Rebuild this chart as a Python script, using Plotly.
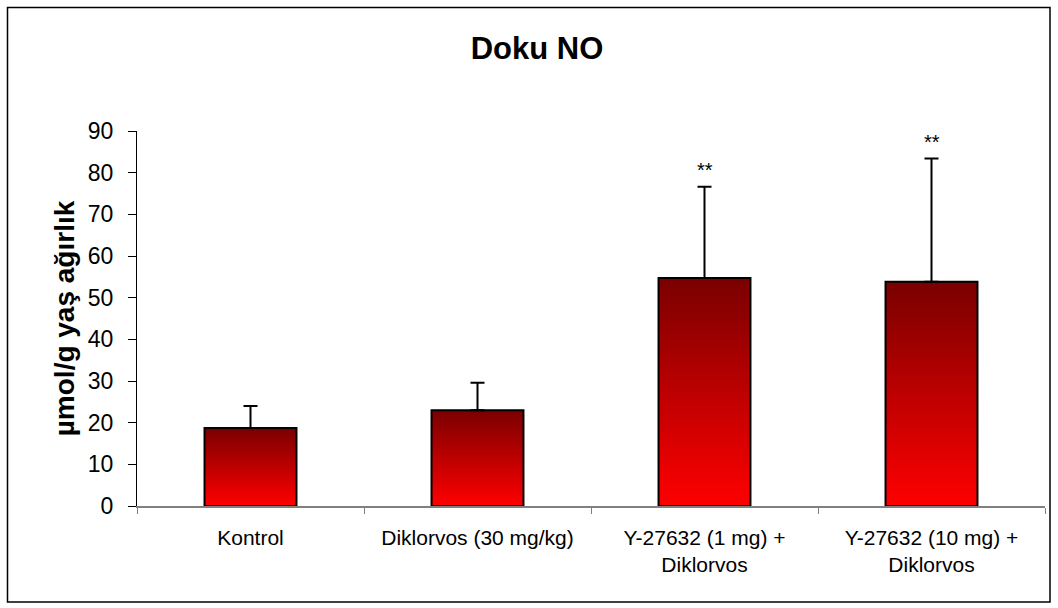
import plotly.graph_objects as go

# Doku NO: group means, upper SD and significance marks
categories = [
    "Kontrol",
    "Diklorvos (30 mg/kg)",
    "Y-27632 (1 mg) +<br>Diklorvos",
    "Y-27632 (10 mg) +<br>Diklorvos",
]
means = [18.7, 23.0, 54.7, 53.8]
sd_upper = [5.3, 6.6, 21.9, 29.6]
significance = ["", "", "**", "**"]

y_ticks = [0, 10, 20, 30, 40, 50, 60, 70, 80, 90]

FONT = "Liberation Sans, Arial, sans-serif"
W, H = 1058, 608
M_L, M_R, M_T, M_B = 137, 13, 131, 102

# vertical gradient: bright red at the base to dark red at the top of each bar
N_SLICES = 60
BOTTOM_RGB = (255, 0, 0)
TOP_RGB = (122, 0, 0)


def mix(t):
    r = round(BOTTOM_RGB[0] + (TOP_RGB[0] - BOTTOM_RGB[0]) * t)
    g = round(BOTTOM_RGB[1] + (TOP_RGB[1] - BOTTOM_RGB[1]) * t)
    b = round(BOTTOM_RGB[2] + (TOP_RGB[2] - BOTTOM_RGB[2]) * t)
    return f"rgb({r},{g},{b})"


fig = go.Figure()

for k in range(N_SLICES):
    frac = k / N_SLICES
    fig.add_trace(go.Bar(
        x=categories,
        y=[m * (1 - frac) for m in means],
        base=[m * frac for m in means],
        marker=dict(color=mix(frac + 0.5 / N_SLICES), line=dict(width=0)),
        hoverinfo="skip",
        showlegend=False,
    ))

# outline and upward error bars
fig.add_trace(go.Bar(
    x=categories,
    y=means,
    marker=dict(color="rgba(0,0,0,0)", line=dict(color="black", width=2)),
    error_y=dict(type="data", symmetric=False, array=sd_upper,
                 arrayminus=[0] * len(means), color="black",
                 thickness=2, width=7),
    showlegend=False,
))

# significance marks above the error bars
for cat, m, s, mark in zip(categories, means, sd_upper, significance):
    if mark:
        fig.add_annotation(x=cat, y=m + s, text=mark, showarrow=False,
                           xanchor="center", yanchor="bottom", yshift=4,
                           font=dict(family=FONT, size=20, color="black"))


def px_x(p):
    return (p - M_L) / (W - M_L - M_R)


def px_y(p):
    return (H - M_B - p) / (H - M_T - M_B)


# chart frame
fig.add_shape(type="rect", xref="paper", yref="paper",
              x0=px_x(7.5), x1=px_x(1050), y0=px_y(602), y1=px_y(7.5),
              line=dict(color="black", width=1.5), fillcolor="rgba(0,0,0,0)",
              layer="below")

fig.update_layout(
    width=W, height=H,
    margin=dict(l=M_L, r=M_R, t=M_T, b=M_B),
    paper_bgcolor="white",
    plot_bgcolor="white",
    barmode="overlay",
    bargap=0.595,
    title=dict(text="Doku NO", x=537 / W, xanchor="center",
               y=1 - 48 / H, yanchor="middle", yref="container",
               font=dict(family=FONT, size=31, color="black", weight="bold")),
    font=dict(family=FONT, color="black"),
)

fig.update_xaxes(
    showline=True, linecolor="#808080", linewidth=1.5,
    ticks="outside", tickson="boundaries", ticklen=6, tickcolor="#808080",
    tickwidth=1, ticklabelstandoff=12,
    tickfont=dict(family=FONT, size=21, color="black"),
    showgrid=False, zeroline=False,
)

fig.update_yaxes(
    range=[0, 90], tickvals=y_ticks,
    showline=True, linecolor="black", linewidth=1,
    ticks="outside", ticklen=8, tickcolor="black", tickwidth=1,
    ticklabelstandoff=10,
    tickfont=dict(family=FONT, size=23, color="black"),
    title=dict(text="µmol/g yaş ağırlık", standoff=5,
               font=dict(family=FONT, size=28, color="black", weight="bold")),
    showgrid=False, zeroline=False,
)

fig.write_html("out.html")
